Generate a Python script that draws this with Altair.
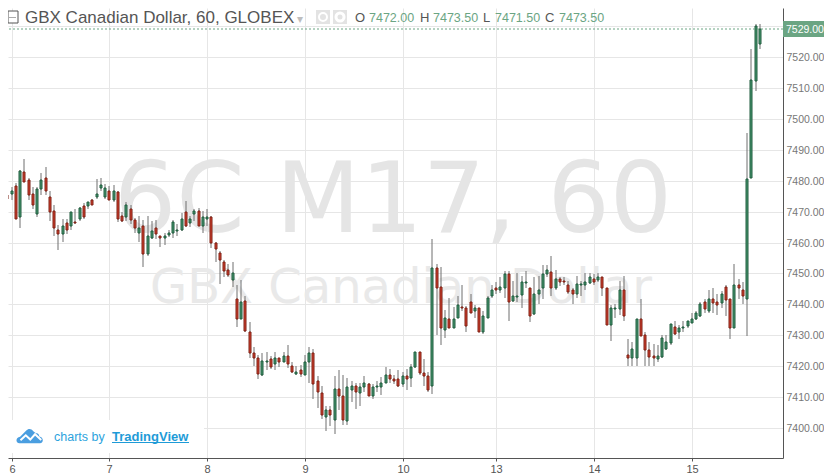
import altair as alt
import pandas as pd

highs = [
    7475.4,7476.0,7477.9,7479.2,7483.4,7487.0,7481.0,7478.0,7478.0,7482.4,7484.3,7476.8,7472.0,7465.8,7467.6,7467.6,7470.0,7470.9,7471.4,7472.7,7473.2,7474.1,7480.4,7481.0,7478.8,
    7478.2,7478.5,7476.8,7470.0,7473.0,7472.0,7468.0,7468.7,7467.4,7468.7,7467.0,7467.3,7462.0,7463.0,7464.0,7467.3,7466.0,7469.5,7473.3,7468.7,7470.9,7471.1,7470.3,7470.9,
    7468.7,7460.1,7457.3,7454.4,7452.9,7453.7,7446.2,7448.0,7442.7,7434.3,7426.2,7423.6,7424.2,7424.6,7423.3,7424.6,7422.6,7424.6,7426.9,7421.4,7419.9,7420.4,7423.7,
    7426.2,7425.5,7416.8,7413.6,7407.2,7407.2,7416.9,7418.8,7417.2,7416.1,7415.3,7414.7,7414.4,7416.8,7414.5,7414.2,7415.2,7416.4,7419.8,7419.0,7417.1,7418.8,7418.0,
    7419.0,7420.7,7424.5,7424.5,7422.4,7418.2,7461.0,7452.9,7452.0,7438.1,7441.9,7439.1,7442.7,7446.2,7439.5,7443.3,7439.7,7438.7,7437.9,7442.7,7446.1,7447.2,7448.8,
    7450.8,7450.8,7447.5,7450.1,7449.1,7450.8,7445.4,7448.8,7449.1,7452.7,7452.7,7455.6,7451.0,7449.0,7448.8,7447.5,7445.4,7449.1,7447.5,7450.2,7450.0,7449.7,7450.0,7449.0,
    7445.2,7439.7,7440.0,7447.5,7449.1,7428.8,7427.9,7435.4,7441.7,7431.1,7427.9,7427.1,7426.9,7430.0,7430.0,7433.6,7434.6,7433.3,7434.6,7434.6,7437.1,7437.9,7440.8,
    7441.8,7444.6,7445.3,7443.2,7444.3,7446.3,7441.8,7452.9,7448.1,7447.1,7495.3,7522.7,7530.7,7530.7,
]
body_tops = [
    7474.9,7475.4,7476.7,7478.4,7483.2,7482.9,7480.3,7475.8,7477.4,7480.3,7481.0,7474.8,7470.2,7464.0,7465.3,7466.3,7469.9,7466.6,7471.2,7471.8,7473.2,7473.8,7475.8,7478.7,7477.7,
    7476.7,7476.7,7476.4,7468.6,7472.2,7470.9,7467.3,7464.7,7465.3,7462.0,7463.7,7464.7,7462.0,7462.0,7463.0,7466.6,7464.1,7467.6,7469.9,7467.6,7470.3,7470.2,7468.3,7468.4,
    7468.3,7460.0,7456.5,7453.6,7451.0,7450.0,7441.6,7440.7,7441.0,7431.0,7424.2,7422.6,7421.6,7421.6,7422.3,7422.6,7422.6,7423.2,7423.2,7420.0,7418.1,7418.7,7421.3,
    7424.2,7424.2,7415.2,7411.4,7405.8,7405.8,7412.6,7412.6,7410.4,7413.2,7413.6,7413.6,7413.2,7414.5,7414.2,7413.2,7413.7,7414.5,7417.1,7417.1,7415.8,7415.8,7416.8,
    7416.8,7419.7,7424.5,7424.5,7417.8,7416.9,7451.6,7451.6,7445.5,7435.5,7435.2,7435.2,7439.7,7439.0,7438.7,7440.6,7438.7,7438.7,7436.1,7441.9,7444.5,7445.2,7445.5,
    7449.8,7449.7,7442.6,7442.6,7447.1,7447.1,7445.2,7443.2,7444.5,7449.7,7451.0,7450.6,7448.1,7448.1,7447.4,7446.1,7444.5,7446.5,7446.6,7447.1,7448.7,7448.1,7449.0,7448.7,
    7445.2,7438.7,7438.7,7444.5,7444.5,7423.6,7425.5,7435.2,7435.2,7430.0,7425.2,7423.2,7423.2,7429.0,7427.7,7433.6,7432.6,7432.3,7432.6,7434.5,7435.4,7437.1,7440.0,
    7440.6,7441.6,7441.6,7440.6,7443.2,7445.5,7441.6,7446.1,7446.1,7444.5,7480.4,7512.7,7529.9,7529.0,
]
body_bottoms = [
    7474.0,7474.0,7475.7,7467.5,7468.2,7479.7,7475.4,7472.0,7469.1,7477.2,7476.7,7469.9,7464.6,7462.9,7462.6,7463.9,7465.2,7466.3,7467.5,7468.2,7471.7,7472.2,7474.7,7477.6,7474.7,
    7473.7,7473.9,7467.5,7467.0,7468.2,7467.3,7464.6,7463.0,7456.4,7456.4,7461.6,7462.6,7461.6,7461.6,7462.5,7463.0,7463.6,7464.0,7465.5,7466.2,7469.1,7465.2,7465.2,7467.5,
    7460.0,7458.0,7454.4,7450.9,7449.6,7448.0,7435.4,7435.4,7431.5,7424.4,7422.5,7417.6,7417.0,7421.4,7419.6,7420.6,7421.5,7421.2,7420.6,7418.0,7417.6,7417.6,7417.0,
    7421.3,7414.1,7411.5,7404.1,7403.5,7404.1,7402.5,7410.2,7402.5,7402.2,7412.4,7411.5,7411.2,7413.2,7410.2,7410.2,7413.3,7413.3,7414.5,7415.8,7415.2,7413.6,7414.2,
    7416.0,7416.1,7419.7,7417.8,7416.8,7412.2,7413.5,7445.4,7432.2,7431.6,7432.5,7432.5,7435.5,7438.7,7433.1,7437.1,7437.7,7431.0,7431.0,7435.5,7442.6,7444.5,7444.5,
    7445.4,7440.6,7441.0,7442.4,7443.1,7446.9,7436.3,7437.0,7443.2,7445.2,7449.7,7445.2,7445.4,7447.1,7447.1,7444.1,7443.4,7443.4,7446.3,7446.3,7446.9,7447.3,7447.9,7445.4,
    7433.4,7433.4,7438.5,7438.6,7436.3,7422.5,7422.5,7422.5,7429.9,7425.2,7423.1,7422.5,7422.2,7423.1,7425.4,7427.6,7430.5,7430.9,7432.2,7433.1,7434.1,7435.1,7436.3,
    7438.6,7438.0,7440.5,7439.9,7440.5,7441.5,7432.2,7432.5,7445.2,7442.6,7441.8,7481.0,7512.4,7524.3,
]
lows = [
    7473.8,7473.8,7473.8,7467.5,7464.8,7479.7,7473.8,7470.8,7468.4,7475.5,7475.4,7466.8,7462.2,7457.7,7460.2,7462.9,7464.2,7466.0,7467.1,7467.5,7470.9,7472.0,7474.1,7476.8,7474.0,
    7473.6,7473.0,7466.5,7466.5,7466.8,7466.0,7463.0,7460.2,7452.0,7455.6,7461.1,7461.1,7458.4,7459.2,7461.8,7461.3,7462.2,7463.7,7465.1,7464.9,7467.0,7465.2,7463.0,7465.4,
    7458.3,7453.8,7446.5,7449.0,7448.8,7445.6,7432.7,7435.4,7430.9,7422.8,7419.9,7416.0,7416.7,7418.9,7419.0,7418.9,7419.8,7421.2,7419.3,7417.8,7417.0,7416.4,7417.0,
    7414.4,7409.3,7406.5,7402.8,7398.9,7400.8,7398.0,7405.8,7400.9,7400.9,7408.3,7406.0,7407.0,7411.5,7410.2,7409.3,7411.8,7410.8,7414.4,7414.5,7414.2,7413.3,7413.3,
    7412.4,7413.3,7419.3,7417.0,7413.5,7411.5,7411.0,7430.1,7426.9,7429.0,7432.5,7432.5,7435.5,7437.9,7431.2,7437.1,7435.7,7431.0,7430.3,7435.5,7441.9,7443.2,7443.8,
    7442.2,7434.6,7440.6,7440.6,7438.9,7445.2,7434.4,7436.6,7440.2,7441.8,7449.0,7442.8,7444.5,7446.0,7446.1,7443.2,7440.2,7442.2,7442.8,7444.5,7446.5,7446.2,7447.2,7442.8,
    7433.4,7428.3,7435.7,7436.6,7434.7,7420.2,7420.2,7419.9,7429.9,7420.2,7420.2,7420.2,7421.5,7422.5,7425.3,7427.0,7430.2,7428.9,7430.9,7432.4,7434.1,7434.8,7436.0,
    7437.1,7437.1,7437.2,7436.7,7438.9,7436.3,7428.8,7432.2,7441.8,7440.2,7429.9,7480.8,7509.0,7522.5,
]
green_index = {0,2,4,8,9,14,16,18,20,22,23,24,26,29,32,34,35,38,39,40,41,42,44,45,47,48,54,56,61,62,64,66,69,71,72,
               76,78,81,82,84,85,87,88,89,90,94,96,97,101,104,106,107,111,113,114,115,117,118,120,121,122,123,125,126,127,128,
               130,135,136,137,138,140,143,144,145,148,149,154,155,156,157,159,160,161,162,163,164,166,169,172,175,176,177,178}

day_positions = [2, 25, 48, 71, 94, 116, 139, 162]
day_labels = ["6", "7", "8", "9", "10", "13", "14", "15"]
price_ticks = [7400, 7410, 7420, 7430, 7440, 7450, 7460, 7470, 7480, 7490, 7500, 7510, 7520, 7530]
last_price = 7529.0

UP, UP_EDGE = "#4a9a72", "#1f5a3d"
DOWN, DOWN_EDGE = "#d8402e", "#7a2015"
PRICE_GREEN = "#6ba583"
FONT = "Liberation Sans"

n = len(highs)
df = pd.DataFrame({
    "i": list(range(n)),
    "high": highs, "low": lows, "top": body_tops, "bottom": body_bottoms,
    "dir": ["up" if k in green_index else "down" for k in range(n)],
})

xs = alt.Scale(domain=[1.1527, 183.46], round=True, nice=False, zero=False, padding=0)
ys = alt.Scale(domain=[7390.3, 7535.85], round=True, nice=False, zero=False, padding=0)
label_expr = "[%s][indexof([%s], datum.value)]" % (
    ",".join("'%s'" % s for s in day_labels), ",".join(str(v) for v in day_positions))

x_axis = alt.Axis(
    values=day_positions, labelExpr=label_expr, orient="bottom", grid=True, gridColor="#e6e6e6",
    domainColor="#555555", tickColor="#555555", tickSize=3, labelColor="#555555", labelFontSize=11,
    labelFont=FONT, labelPadding=2, labelFlush=False, labelOverlap=False, title=None)
y_axis = alt.Axis(
    values=price_ticks, labelExpr="datum.value == 7530 ? '' : format(datum.value, '.2f')",
    orient="right", grid=True, gridColor="#e6e6e6", tickCount=14,
    domainColor="#555555", ticks=False, labelColor="#777777", labelFontSize=10.5, labelFont=FONT,
    labelPadding=3, labelOverlap=False, title=None)


def label(text, x, y, size=12, color="#555555", font=FONT, align="left", weight="normal"):
    return alt.Chart(pd.DataFrame({"t": [text]})).mark_text(
        align=align, baseline="alphabetic", fontSize=size, font=font, color=color, fontWeight=weight
    ).encode(x=alt.value(x), y=alt.value(y), text="t:N")


def box(x, x2, y, y2, fill, stroke=None):
    kw = {"stroke": stroke, "strokeWidth": 1} if stroke else {}
    return alt.Chart(pd.DataFrame({"a": [0]})).mark_rect(fill=fill, **kw).encode(
        x=alt.value(x), x2=alt.value(x2), y=alt.value(y), y2=alt.value(y2))


def glyph(path, x, y, size, fill=None, stroke=None, width=1):
    kw = dict(shape=path, size=size, opacity=1)
    if fill:
        kw.update(filled=True, fill=fill, stroke=None)
    else:
        kw.update(filled=False, stroke=stroke, strokeWidth=width)
    return alt.Chart(pd.DataFrame({"a": [0]})).mark_point(**kw).encode(x=alt.value(x), y=alt.value(y))


wick = alt.Chart(df).mark_rule(color="#6e6e6e", strokeWidth=1, clip=True).encode(
    x=alt.X("i:Q", scale=xs, axis=x_axis),
    y=alt.Y("high:Q", scale=ys, axis=y_axis),
    y2="low:Q",
)
body = alt.Chart(df).mark_bar(size=2, strokeWidth=1, clip=True, opacity=1).encode(
    x=alt.X("i:Q", scale=xs, axis=x_axis),
    y=alt.Y("top:Q", scale=ys, axis=y_axis),
    y2="bottom:Q",
    fill=alt.Fill("dir:N", scale=alt.Scale(domain=["up", "down"], range=[UP, DOWN]), legend=None),
    stroke=alt.Stroke("dir:N", scale=alt.Scale(domain=["up", "down"], range=[UP_EDGE, DOWN_EDGE]), legend=None),
)

price_line = alt.Chart(pd.DataFrame({"p": [last_price]})).mark_rule(
    color=PRICE_GREEN, strokeDash=[2, 2], strokeWidth=1).encode(y=alt.Y("p:Q", scale=ys, axis=y_axis))

CLOUD = ("M-0.8 0.54 C-1.1 0.54 -1.1 0.1 -0.75 0.05 L-0.3 -0.4 C-0.1 -0.6 0.1 -0.55 0.25 -0.35 "
         "L0.45 -0.2 C0.6 -0.25 0.7 -0.1 0.7 0.03 C1.05 0.08 1.05 0.54 0.75 0.54 Z")
ZIGZAG = "M-0.72 0.32 L-0.32 -0.05 L0.02 0.27 L0.38 -0.13 L0.85 0.3"

chart = alt.layer(
    label("6C M17, 60", 385, 224, size=98, color="#e5e5e5", font="DejaVu Sans", align="center"),
    label("GBX Canadian Dollar", 393, 295, size=48, color="#e9e9e9", font="DejaVu Sans", align="center"),
    box(0, 196, 412, 445, "#ffffff"),
    wick,
    body,
    price_line,
    box(775, 816, 13, 29, PRICE_GREEN),
    label("7529.00", 778, 25, size=10.5, color="#ffffff"),
    box(0, 10, 3, 15, "#ffffff", "#555555"),
    box(1, 8, 9, 9.5, "#555555"),
    label("GBX Canadian Dollar, 60, GLOBEX", 17, 15, size=17, color="#555555"),
    label("▾", 289, 15, size=12, color="#bdbdbd"),
    box(308, 322, 2, 16, "#e3e3e3"),
    box(325, 339, 2, 16, "#e3e3e3"),
    glyph("M-1 0 A1 1 0 1 1 1 0 A1 1 0 1 1 -1 0 Z", 315, 9, 64, stroke="#ffffff", width=2),
    glyph("M-1 0 A1 1 0 1 1 1 0 A1 1 0 1 1 -1 0 Z", 332, 9, 64, stroke="#ffffff", width=3),
    label("O", 347, 14, size=13, color="#555555"),
    label("7472.00", 361, 14, size=12.5, color=PRICE_GREEN),
    label("H", 412, 14, size=13, color="#555555"),
    label("7473.50", 425, 14, size=12.5, color=PRICE_GREEN),
    label("L", 475, 14, size=13, color="#555555"),
    label("7471.50", 487, 14, size=12.5, color=PRICE_GREEN),
    label("C", 537, 14, size=13, color="#555555"),
    label("7473.50", 551, 14, size=12.5, color=PRICE_GREEN),
    glyph(CLOUD, 22, 428, 700, fill="#4a9ee0"),
    glyph(ZIGZAG, 22, 428, 700, stroke="#ffffff", width=2),
    label("charts by", 46, 433, size=12.5, color="#2da3dd"),
    label("TradingView", 104, 433, size=13, color="#1e9bd7", weight="bold"),
    box(104, 181, 434, 435, "#1e9bd7"),
).resolve_scale(fill="independent", stroke="independent").properties(
    width=775, height=450,
    padding={"left": 0, "top": 0, "right": 41, "bottom": 16},
    autosize=alt.AutoSizeParams(type="none"),
    background="#ffffff",
).configure_view(stroke=None).configure_axis(gridWidth=1, domainWidth=1)

chart.save("out.html", embed_options={"renderer": "svg", "actions": False})
